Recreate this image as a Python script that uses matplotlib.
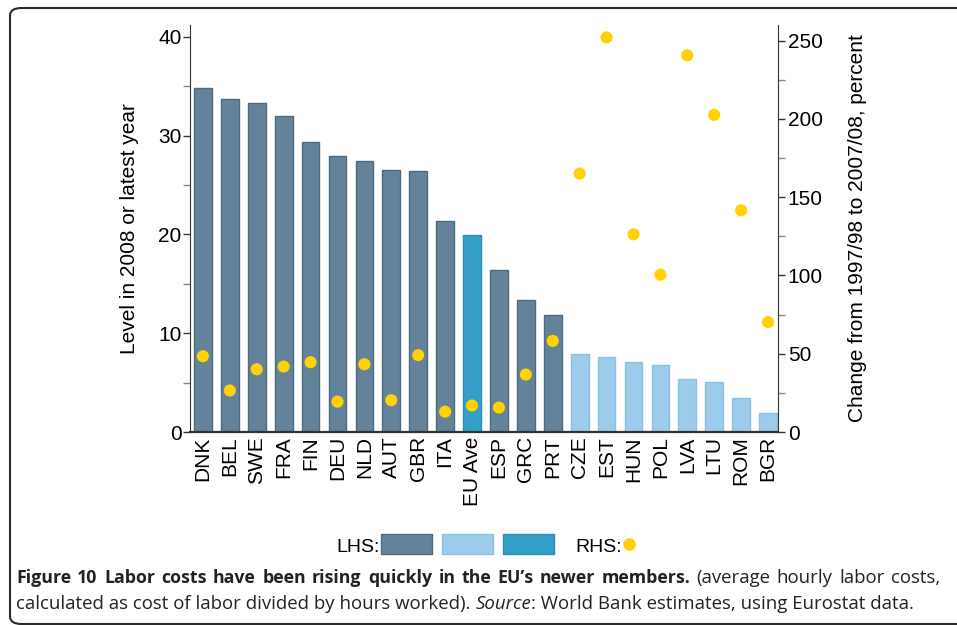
import matplotlib
matplotlib.use("Agg")
import matplotlib.pyplot as plt
from matplotlib.patches import Rectangle, FancyBboxPatch
import numpy as np

# -----------------------------
# Data
# -----------------------------
countries = ["DNK", "BEL", "SWE", "FRA", "FIN", "DEU", "NLD", "AUT", "GBR", "ITA",
             "EU Ave", "ESP", "GRC", "PRT", "CZE", "EST", "HUN", "POL", "LVA",
             "LTU", "ROM", "BGR"]
level = [34.8, 33.7, 33.3, 32.0, 29.4, 27.9, 27.4, 26.5, 26.4, 21.4,
         19.9, 16.4, 13.4, 11.8, 7.9, 7.6, 7.1, 6.8, 5.4, 5.1, 3.4, 1.9]
change = [48.4, 26.5, 40.1, 41.8, 44.6, 19.4, 43.3, 20.3, 49.1, 13.0,
          16.9, 15.6, 36.7, 58.2, 165.1, 252.1, 126.3, 100.5, 240.6, 202.6,
          141.6, 70.2]
group = ["old"] * 10 + ["avg"] + ["old"] * 3 + ["new"] * 8

fill = {"old": "#64829A", "new": "#9CCBEB", "avg": "#34A0C8"}
edge = {"old": "#4C6B82", "new": "#8CC0E4", "avg": "#2A8EB8"}
dot_color = "#FFD200"

plt.rcParams["font.family"] = ["Liberation Sans", "DejaVu Sans"]
FS = 15

W, H = 957, 625
fig = plt.figure(figsize=(W / 100, H / 100), dpi=100)

def fx(px):
    return px / W

def fy(py):
    return 1 - py / H

# -----------------------------
# Frame
# -----------------------------
frame = FancyBboxPatch((fx(10), fy(624)), fx(1100), fy(8) - fy(624),
                       boxstyle="round,pad=0,rounding_size=0.012",
                       transform=fig.transFigure, fill=False,
                       edgecolor="#2b2b2b", linewidth=1.5, clip_on=False)
fig.patches.append(frame)

# -----------------------------
# Axes
# -----------------------------
ax = fig.add_axes([fx(190), fy(432), fx(778) - fx(190), fy(25) - fy(432)])
x = np.arange(len(countries))
ax.bar(x, level, width=0.66,
       color=[fill[g] for g in group],
       edgecolor=[edge[g] for g in group], linewidth=1.0, zorder=2)
ax.set_xlim(-0.48, len(countries) - 1 + 0.37)
ax.set_ylim(0, 41.2)
ax.set_yticks([0, 10, 20, 30, 40])
ax.set_yticks([5, 15, 25, 35], minor=True)
ax.set_xticks(x)
ax.set_xticklabels(countries, rotation=90, fontsize=FS)
ax.tick_params(axis="x", length=0, pad=3)
ax.tick_params(axis="y", which="major", length=5, width=1, labelsize=FS, pad=1,
               color="#333333")
ax.tick_params(axis="y", which="minor", length=5, width=1, color="#888888")
ax.set_ylabel("Level in 2008 or latest year", fontsize=FS, labelpad=14)
ax.spines["top"].set_visible(False)
ax.spines["right"].set_visible(False)
ax.spines["left"].set_color("#333333")
ax.spines["bottom"].set_color("#333333")
ax.spines["bottom"].set_linewidth(1.6)

ax2 = ax.twinx()
ax2.scatter(x, change, marker="o", s=76, color=dot_color, edgecolors="none",
            zorder=3)
ax2.set_ylim(0, 260)
ax2.set_yticks([0, 50, 100, 150, 200, 250])
ax2.set_yticks(np.arange(25, 260, 50), minor=True)
ax2.tick_params(axis="y", which="major", length=5, width=1, labelsize=FS, pad=2,
                color="#333333")
ax2.tick_params(axis="y", which="minor", length=5, width=1, color="#888888")
ax2.set_ylabel("Change from 1997/98 to 2007/08, percent", fontsize=FS,
               labelpad=18)
ax2.spines["top"].set_visible(False)
ax2.spines["left"].set_visible(False)
ax2.spines["bottom"].set_visible(False)
ax2.spines["right"].set_color("#333333")

# -----------------------------
# Legend
# -----------------------------
fig.text(fx(380), fy(552), "LHS:", fontsize=14, ha="right", va="baseline")
for g, x0 in zip(["old", "new", "avg"], [381, 442, 503]):
    fig.patches.append(Rectangle((fx(x0), fy(554)), fx(51), fy(534) - fy(554),
                                 transform=fig.transFigure, facecolor=fill[g],
                                 edgecolor=edge[g], linewidth=1.0))
fig.text(fx(622), fy(552), "RHS:", fontsize=14, ha="right", va="baseline")
fig.lines.append(plt.Line2D([fx(629)], [fy(544)], transform=fig.transFigure,
                            marker="o", markersize=8, color=dot_color,
                            linestyle="none"))

# -----------------------------
# Caption (mixed styles, line 1 justified)
# -----------------------------
cap_font = ["Open Sans", "DejaVu Sans"]
renderer = fig.canvas.get_renderer()

def put(txt, xx, y0, weight="normal", style="normal", size=13.4):
    t = fig.text(xx, fy(y0), txt, fontsize=size, fontweight=weight,
                 fontstyle=style, family=cap_font, color="#222222",
                 ha="left", va="baseline")
    return t

# line 1: justify word by word between x=16 and x=940
bold_part = "Figure 10 Labor costs have been rising quickly in the EU\u2019s newer members."
reg_part = "(average hourly labor costs,"
words = [(w, "bold", 12.8) for w in bold_part.split()] + \
        [(w, "normal", 13.4) for w in reg_part.split()]
texts = [put(w, 0, 583, weight=wt, size=sz) for w, wt, sz in words]
widths = [t.get_window_extent(renderer=renderer).width for t in texts]
gap = (940 - 16 - sum(widths)) / (len(words) - 1)
xx = 16
for t, wd in zip(texts, widths):
    t.set_x(fx(xx))
    xx += wd + gap

# line 2: natural spacing
xx = fx(16)
for txt, style in [("calculated as cost of labor divided by hours worked). ", "normal"),
                   ("Source", "italic"),
                   (": World Bank estimates, using Eurostat data.", "normal")]:
    t = put(txt, xx, 609, style=style)
    xx = t.get_window_extent(renderer=renderer).x1 / W

fig.savefig("out.png", dpi=100)
